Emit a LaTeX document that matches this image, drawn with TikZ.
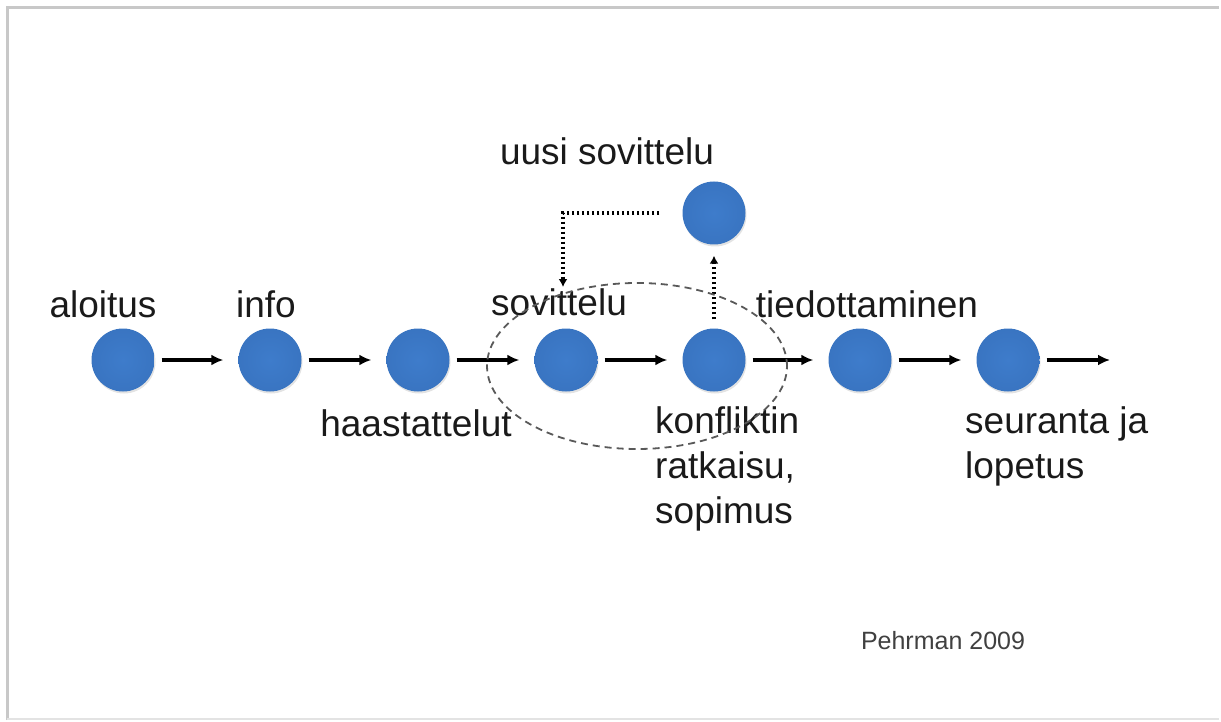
\documentclass[tikz,border=0pt]{standalone}
\usepackage{fontspec}
\setmainfont{Liberation Sans}
\usetikzlibrary{arrows.meta,shadows}
\definecolor{frame}{HTML}{C8C8C8}
\definecolor{ballin}{HTML}{3E7CCB}
\definecolor{ballmid}{HTML}{3771BD}
\definecolor{ballout}{HTML}{28589C}
\definecolor{txt}{HTML}{1A1A1A}
\pgfdeclareradialshading{myball}{\pgfpoint{0bp}{0bp}}{color(0bp)=(ballin); color(36bp)=(ballmid); color(46bp)=(ballout); color(50bp)=(ballout)}
\tikzset{
  ball/.style={circle,minimum size=63pt,inner sep=0pt,shading=myball,
    drop shadow={opacity=0.22,shadow xshift=1pt,shadow yshift=-2pt}},
  lbl/.style={text=txt,inner sep=0pt,font=\fontsize{37pt}{45pt}\selectfont},
  flow/.style={line width=3.4pt,-{Latex[length=12pt,width=11pt]},shorten <=7pt,shorten >=15pt},
  dotline/.style={line width=3.2pt,dash pattern=on 2.6pt off 2.4pt,-{Latex[length=8pt,width=9pt]}},
  ring/.style={line width=1.8pt,draw=black!65,dash pattern=on 7pt off 5pt}
}
\begin{document}
\begin{tikzpicture}[x=1pt,y=-1pt]
\useasboundingbox (0,0) rectangle (1221,722);
\draw[frame,line width=3pt] (7,720) -- (7,8) -- (1219,8);
\draw[frame!50,line width=2pt] (7,719) -- (1219,719);
% circles
\node[ball] (c1) at (123,360) {};
\node[ball] (c2) at (270,360) {};
\node[ball] (c3) at (418,360) {};
\node[ball] (c4) at (566,360) {};
\node[ball] (c5) at (714,360) {};
\node[ball] (c6) at (860,360) {};
\node[ball] (c7) at (1008,360) {};
\node[ball] (c8) at (714,213) {};
\coordinate (endarrow) at (1110,360);
\coordinate (loopend) at (563,287);
% labels
\node[lbl,anchor=base] (t1) at (103,317) {aloitus};
\node[lbl,anchor=base] (t2) at (266,317) {info};
\node[lbl,anchor=base] (t4) at (559,315) {sovittelu};
\node[lbl,anchor=base] (t6) at (867,317) {tiedottaminen};
\node[lbl,anchor=base] (t8) at (607,165) {uusi sovittelu};
\node[lbl,anchor=base] (t3) at (416,436) {haastattelut};
\node[lbl,anchor=north west,align=left] (t5) at (655,406) {konfliktin\\ratkaisu,\\sopimus};
\node[lbl,anchor=north west,align=left] (t7) at (965,406) {seuranta ja\\lopetus};
\node[text=black!75,inner sep=0pt,anchor=base,font=\fontsize{25pt}{30pt}\selectfont] (ref) at (943,649) {Pehrman 2009};
% arrows
\draw[flow] (c1) -- (c2);
\draw[flow] (c2) -- (c3);
\draw[flow] (c3) -- (c4);
\draw[flow] (c4) -- (c5);
\draw[flow] (c5) -- (c6);
\draw[flow] (c6) -- (c7);
\draw[flow,shorten >=0pt] (c7) -- (endarrow);
\draw[dotline,shorten <=9pt,shorten >=11pt] (c5) -- (c8);
\draw[dotline,shorten <=23pt] (c8.west) -| (loopend);
% ellipse
\draw[ring] (637,366) ellipse [x radius=150pt,y radius=83pt];
\end{tikzpicture}
\end{document}
